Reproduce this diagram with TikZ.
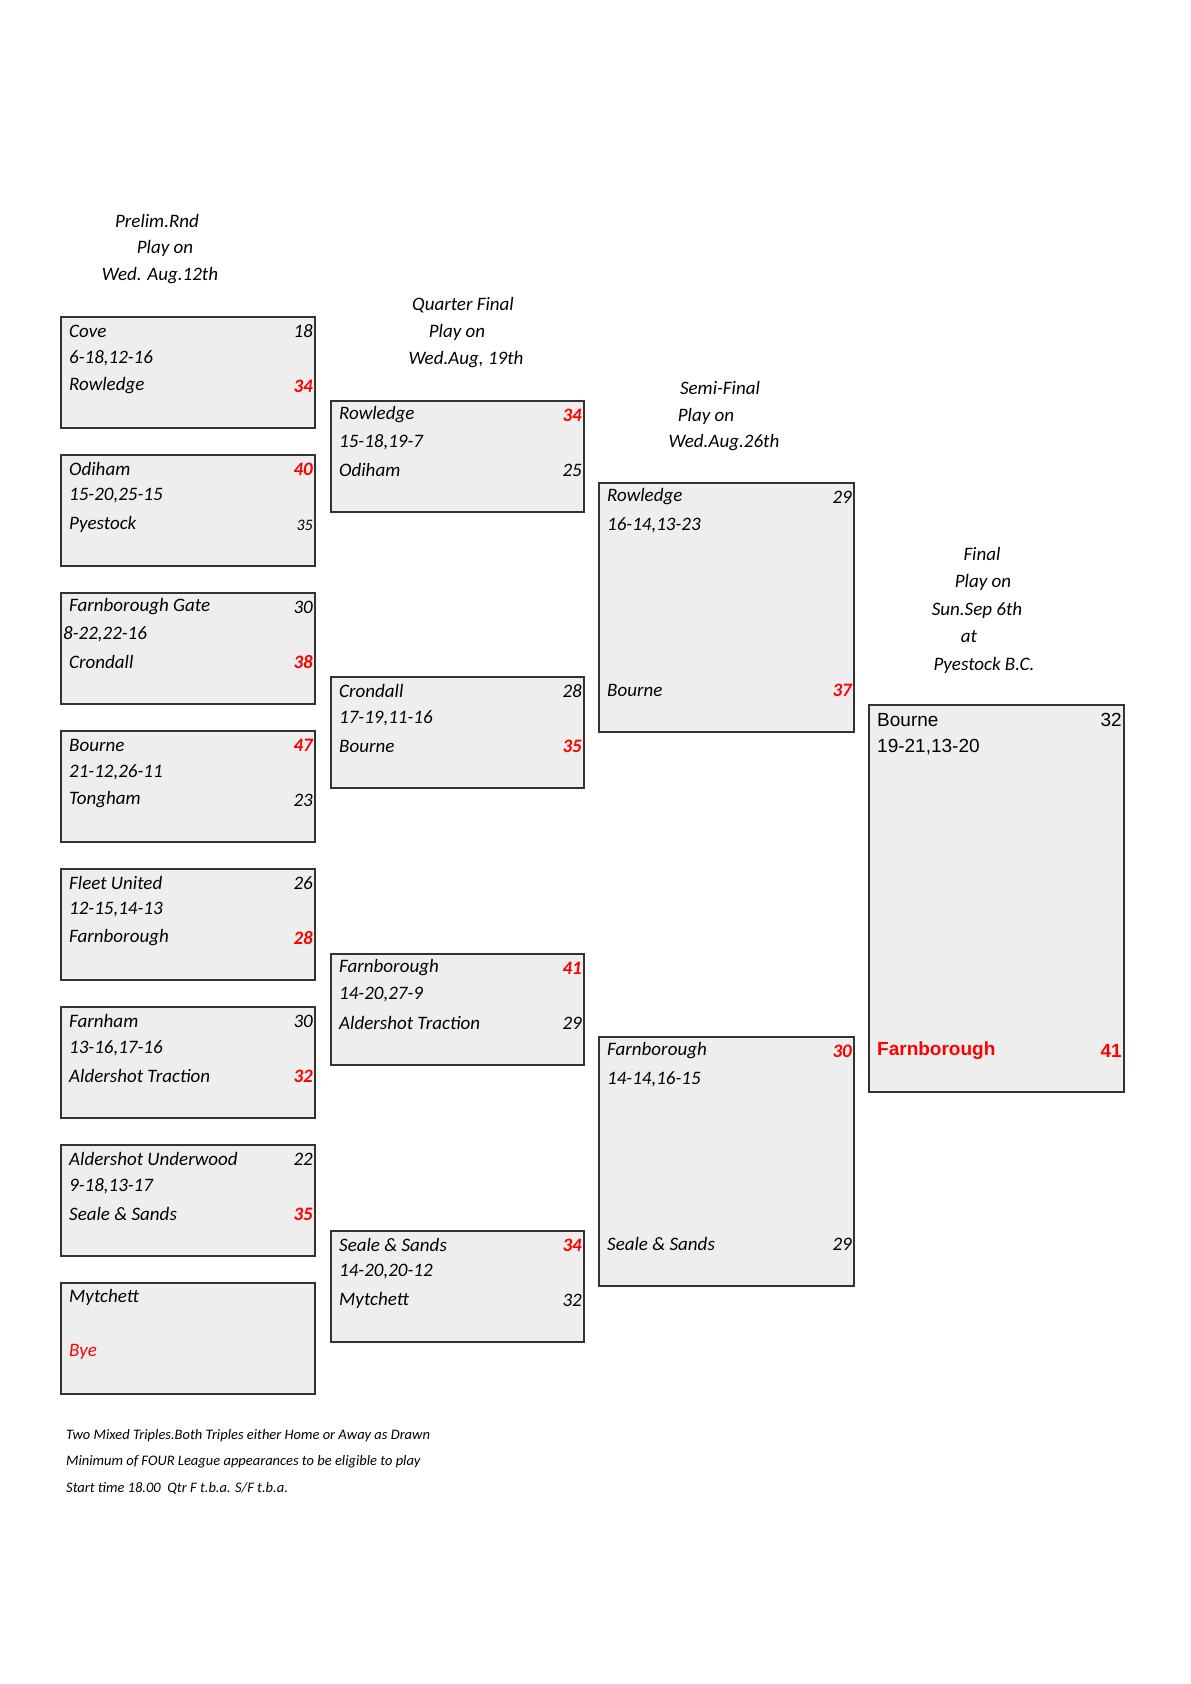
\documentclass[tikz,border=0pt]{standalone}
\usepackage{fontspec}
\setmainfont{Carlito}
\newfontfamily\arialf{Liberation Sans}
\definecolor{boxfill}{HTML}{EEEEEE}
\definecolor{boxline}{HTML}{333333}
\definecolor{win}{HTML}{FF0000}
\begin{document}
\begin{tikzpicture}[x=1pt,y=-1pt,
  box/.style={draw=boxline,line width=1.6pt,fill=boxfill},
  t/.style={anchor=west,inner sep=0pt,font=\fontsize{19}{22}\selectfont\itshape},
  s/.style={anchor=east,inner sep=0pt,font=\fontsize{19}{22}\selectfont\itshape},
  w/.style={s,text=win,font=\fontsize{19}{22}\selectfont\itshape\bfseries},
  h/.style={inner sep=0pt,font=\fontsize{19}{22}\selectfont\itshape},
  f/.style={anchor=west,inner sep=0pt,font=\fontsize{14.5}{17}\selectfont\itshape},
  a/.style={inner sep=0pt,font=\fontsize{19}{22}\selectfont\arialf}]
\useasboundingbox (0,0) rectangle (1191,1684);
% headers
\node[h] (p1) at (157,221) {Prelim.Rnd};
\node[h] (p2) at (165,248) {Play on};
\node[h] (p3) at (160,276) {Wed. Aug.12th};
\node[h] (q1) at (463,305) {Quarter Final};
\node[h] (q2) at (457,332) {Play on};
\node[h] (q3) at (466,360) {Wed.Aug, 19th};
\node[h] (s1) at (720,388) {Semi-Final};
\node[h] (s2) at (706,416) {Play on};
\node[h] (s3) at (724,443) {Wed.Aug.26th};
\node[h] (f1) at (982,554) {Final};
\node[h] (f2) at (983,582) {Play on};
\node[h] (f3) at (977,610) {Sun.Sep 6th};
\node[h] (f4) at (969,637) {at};
\node[h] (f5) at (984,665) {Pyestock B.C.};
% prelim boxes
\newcommand{\pbox}[7]{%
  \draw[box] (61,#1) rectangle (315,#1+111);
  \node[t] (#7a) at (69,#1+14) {#2};
  \node[t] (#7b) at (69,#1+41) {#4};
  \node[t] (#7c) at (69,#1+69) {#5};}
\pbox{317}{Cove}{}{6-18,12-16}{Rowledge}{}{pa}
\node[s] at (313,331) {18}; \node[w] at (313,386) {34};
\pbox{455}{Odiham}{}{15-20,25-15}{Pyestock}{}{pb}
\node[w] at (313,469) {40}; \node[s,font=\fontsize{16}{18}\selectfont\itshape] at (313,525) {35};
\draw[box] (61,593) rectangle (315,704);
\node[t] (pc1) at (69,607) {Farnborough Gate};
\node[t] (pc2) at (63,634) {8-22,22-16};
\node[t] (pc3) at (69,662) {Crondall};
\node[s] at (313,607) {30}; \node[w] at (313,662) {38};
\pbox{731}{Bourne}{}{21-12,26-11}{Tongham}{}{pd}
\node[w] at (313,745) {47}; \node[s] at (313,800) {23};
\pbox{869}{Fleet United}{}{12-15,14-13}{Farnborough}{}{pe}
\node[s] at (313,883) {26}; \node[w] at (313,938) {28};
\pbox{1007}{Farnham}{}{13-16,17-16}{Aldershot Traction}{}{pf}
\node[s] at (313,1021) {30}; \node[w] at (313,1076) {32};
\pbox{1145}{Aldershot Underwood}{}{9-18,13-17}{Seale \& Sands}{}{pg}
\node[s] at (313,1159) {22}; \node[w] at (313,1214) {35};
\draw[box] (61,1283) rectangle (315,1394);
\node[t] (ph1) at (69,1297) {Mytchett};
\node[t,text=win] (ph2) at (69,1352) {Bye};
% quarter finals
\newcommand{\qbox}[4]{%
  \draw[box] (331,#1) rectangle (584,#1+111);
  \node[t] at (339,#1+14) {#2};
  \node[t] at (339,#1+41) {#3};
  \node[t] at (339,#1+69) {#4};}
\qbox{401}{Rowledge}{15-18,19-7}{Odiham}
\node[w] at (582,415) {34}; \node[s] at (582,470) {25};
\qbox{677}{Crondall}{17-19,11-16}{Bourne}
\node[s] at (582,691) {28}; \node[w] at (582,746) {35};
\qbox{954}{Farnborough}{14-20,27-9}{Aldershot Traction}
\node[w] at (582,968) {41}; \node[s] at (582,1023) {29};
\qbox{1231}{Seale \& Sands}{14-20,20-12}{Mytchett}
\node[w] at (582,1245) {34}; \node[s] at (582,1300) {32};
% semi finals
\draw[box] (599,483) rectangle (854,732);
\node[t] at (607,497) {Rowledge}; \node[s] at (852,497) {29};
\node[t] at (607,525) {16-14,13-23};
\node[t] at (607,690) {Bourne}; \node[w] at (852,690) {37};
\draw[box] (599,1037) rectangle (854,1286);
\node[t] at (607,1051) {Farnborough}; \node[w] at (852,1051) {30};
\node[t] at (607,1079) {14-14,16-15};
\node[t] at (607,1244) {Seale \& Sands}; \node[s] at (852,1244) {29};
% final
\draw[box] (869,705) rectangle (1124,1092);
\node[a,anchor=west] at (877,720) {Bourne}; \node[a,anchor=east] at (1122,720) {32};
\node[a,anchor=west] at (877,747) {19-21,13-20};
\node[a,anchor=west,text=win,font=\fontsize{19}{22}\selectfont\arialf\bfseries] at (877,1051) {Farnborough};
\node[a,anchor=east,text=win,font=\fontsize{19}{22}\selectfont\arialf\bfseries] at (1122,1051) {41};
% notes
\node[f] (n1) at (66,1436) {Two Mixed Triples.Both Triples either Home or Away as Drawn};
\node[f] (n2) at (66,1462) {Minimum of FOUR League appearances to be eligible to play};
\node[f] (n3) at (66,1488) {Start time 18.00\ \ Qtr F t.b.a. S/F t.b.a.};
\end{tikzpicture}
\end{document}
